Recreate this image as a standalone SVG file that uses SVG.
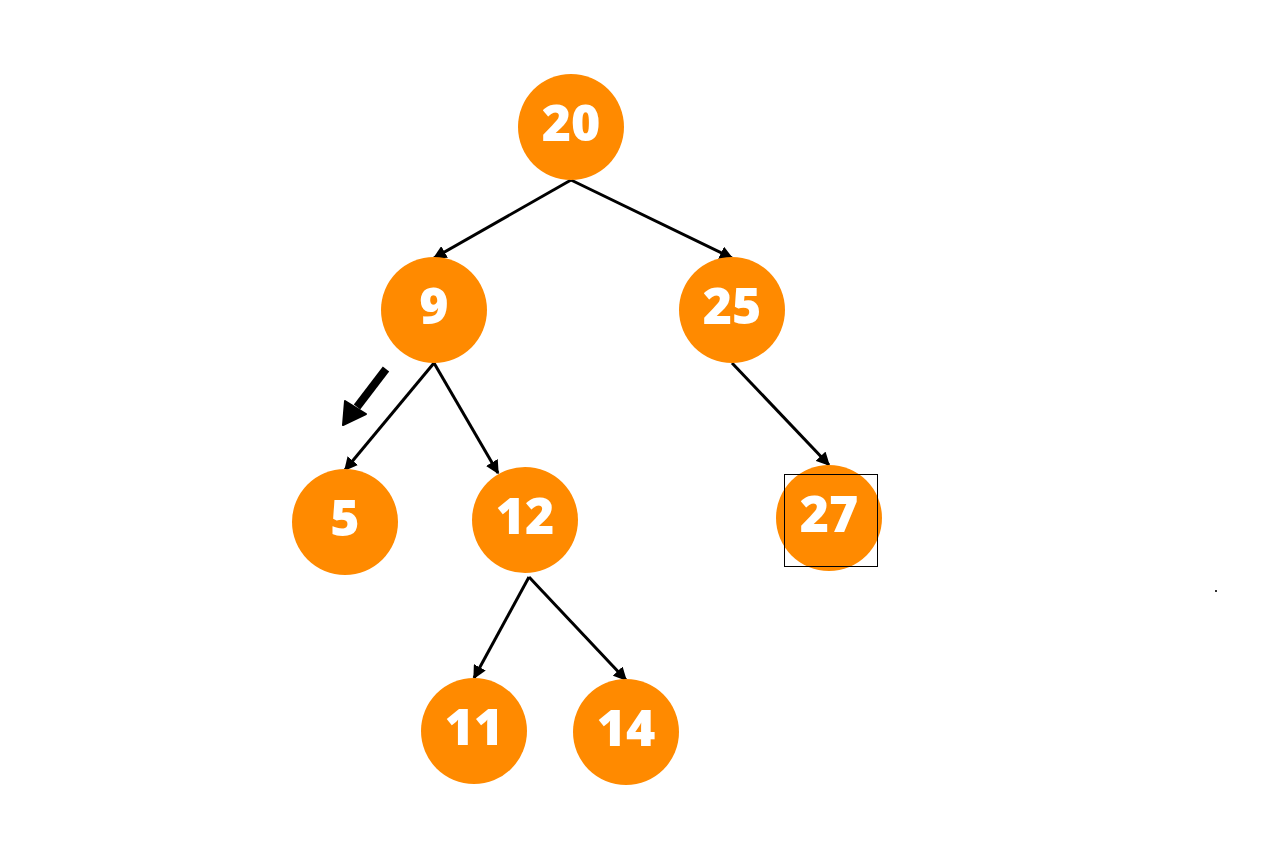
<svg xmlns="http://www.w3.org/2000/svg" width="1280" height="853" viewBox="0 0 1280 853">
<style>
.n{fill:#ff8a00}
.t{fill:#fff;font-family:"Open Sans","Liberation Sans",sans-serif;font-weight:800;font-size:50px;text-anchor:middle;dominant-baseline:central}
.e{stroke:#000;stroke-width:3;fill:none;marker-end:url(#ah)}
</style>
<defs>
<marker id="ah" viewBox="0 0 10 10" refX="9" refY="5" markerWidth="4.5" markerHeight="4.5" orient="auto" markerUnits="strokeWidth">
<path d="M0,0 L10,5 L0,10 z" fill="#000"/>
</marker>
</defs>
<rect width="1280" height="853" fill="#fff"/>
<g id="connectors">
<line class="e" x1="571" y1="180" x2="434" y2="258"/>
<line class="e" x1="571" y1="180" x2="732" y2="258"/>
<line class="e" x1="434" y1="363" x2="345" y2="470"/>
<line class="e" x1="434" y1="363" x2="498" y2="473"/>
<line class="e" x1="732" y1="363" x2="829" y2="465"/>
<line class="e" x1="529" y1="577" x2="474" y2="678"/>
<line class="e" x1="529" y1="577" x2="626" y2="680"/>
<line x1="386" y1="369" x2="357" y2="407" stroke="#000" stroke-width="8"/>
<path d="M343,425 L345,401 L366,414 z" fill="#000" stroke="#000" stroke-width="2" stroke-linejoin="round"/>
</g>
<g id="n20"><circle class="n" cx="571" cy="127" r="53"/><text class="t" x="571" y="122">20</text></g>
<g id="n9"><circle class="n" cx="434" cy="310" r="53"/><text class="t" x="434" y="305">9</text></g>
<g id="n25"><circle class="n" cx="732" cy="310" r="53"/><text class="t" x="732" y="305">25</text></g>
<g id="n5"><circle class="n" cx="345" cy="522" r="53"/><text class="t" x="345" y="517">5</text></g>
<g id="n12"><circle class="n" cx="525" cy="520" r="53"/><text class="t" x="525" y="515">12</text></g>
<g id="n27"><circle class="n" cx="829" cy="518" r="53"/><text class="t" x="829" y="513">27</text>
<rect x="784.5" y="474.5" width="93" height="92" fill="none" stroke="#000" stroke-width="1"/></g>
<g id="n11"><circle class="n" cx="474" cy="731" r="53"/><text class="t" x="474" y="726">11</text></g>
<g id="n14"><circle class="n" cx="626" cy="732" r="53"/><text class="t" x="626" y="727">14</text></g>
<rect x="1215" y="590" width="2" height="2" fill="#333"/>
</svg>
